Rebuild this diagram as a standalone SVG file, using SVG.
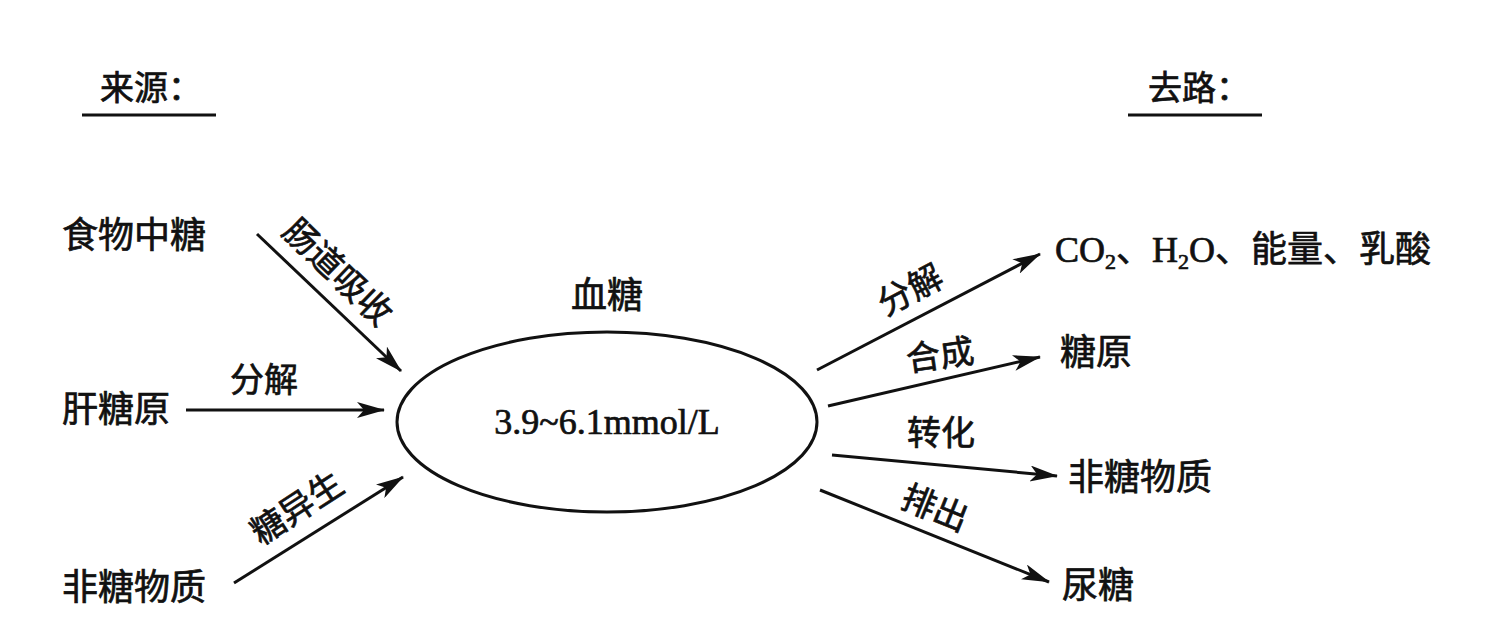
<svg xmlns="http://www.w3.org/2000/svg" width="1500" height="624" viewBox="0 0 1500 624">
<style>
.t{font-family:"Liberation Serif","Noto Sans CJK SC",serif;fill:#111;stroke:#111;stroke-width:0.7px;}
.n{font-size:36px;}
.l{font-size:34px;}
.h{font-size:34px;}
.c{stroke:#111;stroke-width:3;fill:none;marker-end:url(#ah);}
</style>
<defs>
<marker id="ah" viewBox="0 0 28 16" refX="27" refY="8" markerWidth="28" markerHeight="16" markerUnits="userSpaceOnUse" orient="auto">
<path d="M0,0 L28,8 L0,16 L7,8 Z" fill="#111"/>
</marker>
</defs>
<rect width="1500" height="624" fill="#fff"/>
<g id="title-source">
<text class="t h" x="100" y="100">来源：</text>
<line x1="82" y1="115" x2="216" y2="115" stroke="#111" stroke-width="3"/>
</g>
<g id="title-dest">
<text class="t h" x="1148" y="100">去路：</text>
<line x1="1128" y1="115" x2="1262" y2="115" stroke="#111" stroke-width="3"/>
</g>
<g id="food"><text class="t n" x="62" y="248">食物中糖</text></g>
<g id="liver"><text class="t n" x="62" y="422">肝糖原</text></g>
<g id="nonsugar-src"><text class="t n" x="62" y="600">非糖物质</text></g>
<g id="blood">
<ellipse cx="607" cy="422" rx="210" ry="90" fill="none" stroke="#111" stroke-width="3"/>
<text class="t n" x="607" y="308" text-anchor="middle">血糖</text>
<text class="t" x="607" y="434" text-anchor="middle" font-size="36">3.9~6.1mmol/L</text>
</g>
<g id="out-co2"><text class="t n" x="1055" y="262">CO<tspan font-size="22" dy="7">2</tspan><tspan dy="-7">、H</tspan><tspan font-size="22" dy="7">2</tspan><tspan dy="-7">O、能量、乳酸</tspan></text></g>
<g id="out-glycogen"><text class="t n" x="1060" y="365">糖原</text></g>
<g id="out-nonsugar"><text class="t n" x="1068" y="490">非糖物质</text></g>
<g id="out-urine"><text class="t n" x="1062" y="598">尿糖</text></g>
<g id="connectors">
<line class="c" x1="257" y1="234" x2="401" y2="371"/>
<line class="c" x1="186" y1="410" x2="384" y2="410"/>
<line class="c" x1="234" y1="583" x2="403" y2="477"/>
<line class="c" x1="817" y1="370" x2="1040" y2="254"/>
<line class="c" x1="828" y1="406" x2="1040" y2="357"/>
<line class="c" x1="832" y1="455" x2="1057" y2="476"/>
<line class="c" x1="820" y1="490" x2="1049" y2="582"/>
</g>
<g id="labels">
<text class="t l" transform="translate(338,272) rotate(44)" text-anchor="middle" y="12">肠道吸收</text>
<text class="t l" x="264" y="392" text-anchor="middle">分解</text>
<text class="t l" transform="translate(297,508) rotate(-33)" text-anchor="middle" y="12">糖异生</text>
<text class="t l" transform="translate(910,290) rotate(-28)" text-anchor="middle" y="12">分解</text>
<text class="t l" transform="translate(940,355) rotate(-8)" text-anchor="middle" y="12">合成</text>
<text class="t l" x="941" y="445" text-anchor="middle">转化</text>
<text class="t l" transform="translate(935,508) rotate(22)" text-anchor="middle" y="12">排出</text>
</g>
</svg>
